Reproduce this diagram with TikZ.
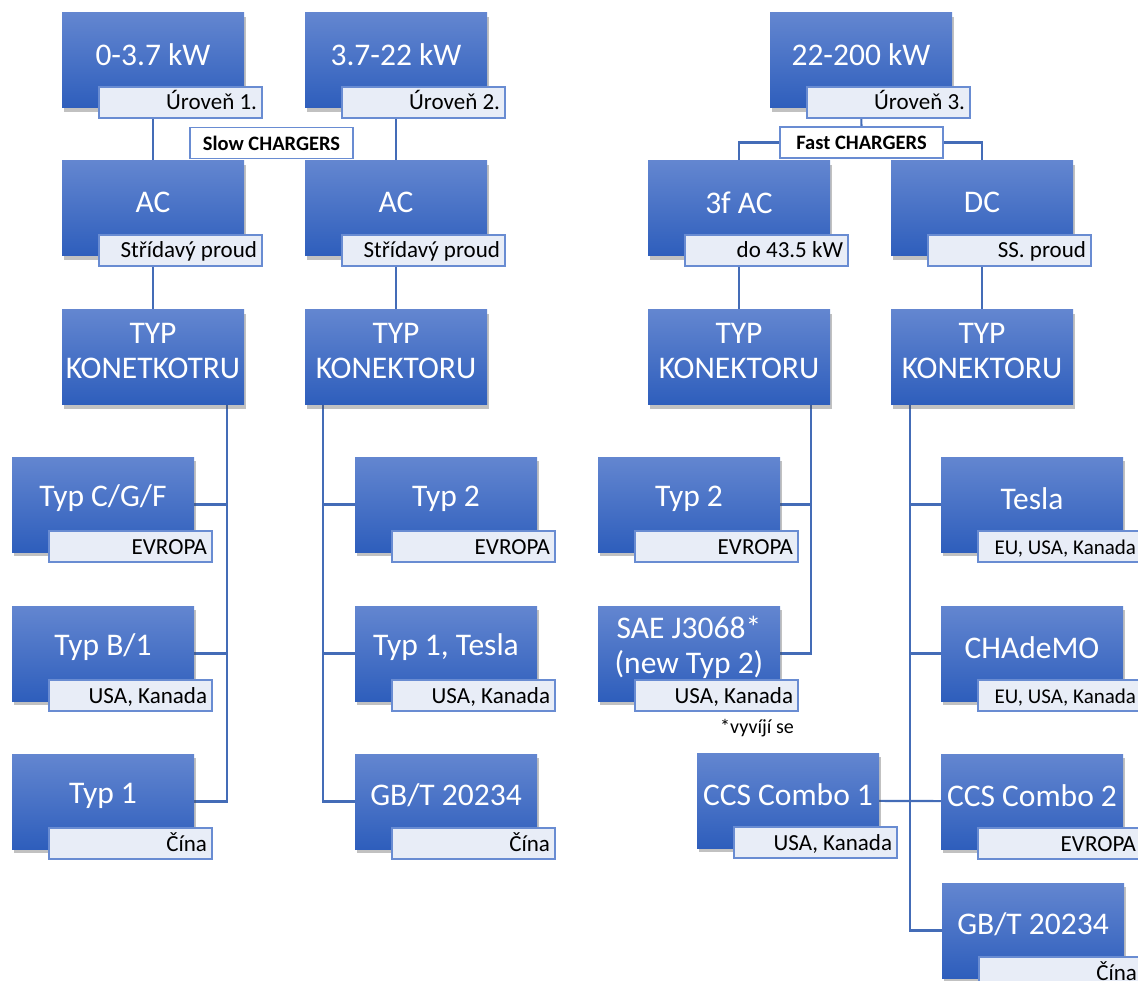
\documentclass[tikz,border=0pt]{standalone}
\usepackage{fontspec}
\setmainfont{Carlito}
\usetikzlibrary{shadows,calc,backgrounds}
\definecolor{boxtop}{RGB}{99,134,208}
\definecolor{boxbot}{RGB}{46,94,188}
\definecolor{lblfill}{RGB}{232,237,247}
\definecolor{lbldraw}{RGB}{105,140,210}
\definecolor{conn}{RGB}{68,108,183}
\tikzset{
  mainbox/.style={rectangle, minimum width=182pt, minimum height=95pt, inner sep=0pt,
    top color=boxtop, bottom color=boxbot, draw=none,
    drop shadow={shadow xshift=2pt, shadow yshift=-4pt, opacity=0.35, fill=black!70}},
  maintext/.style={text=white, font=\fontsize{31.5}{35}\selectfont, align=flush center, inner sep=0pt},
  lblbox/.style={rectangle, draw=lbldraw, line width=1.3pt, fill=lblfill,
    minimum width=163pt, minimum height=31pt, text width=153pt, inner xsep=5pt, inner ysep=0pt,
    align=flush right, text height=17pt, text depth=2pt, font=\fontsize{23}{27}\selectfont},
  smalllbl/.style={font=\fontsize{21}{25}\selectfont},
  grpbox/.style={rectangle, draw=lbldraw, line width=1.3pt, fill=white,
    minimum width=163pt, minimum height=31pt, inner sep=0pt, font=\bfseries\fontsize{20.5}{24}\selectfont},
  link/.style={draw=conn, line width=2.2pt}
}
% #1 name, #2 left x, #3 top y, #4 main text, #5 label text, #6 extra label style
\newcommand\cbox[6]{%
  \node[mainbox] (#1) at (#2+91,#3+47.5) {};
  \node[maintext] (#1t) at ([yshift=6pt]#1.center) {#4};
  \node[lblbox,#6] (#1l) at (#2+118.5,#3+89.5) {#5};
}
\newcommand\tbox[4]{%
  \node[mainbox] (#1) at (#2+91,#3+47.5) {};
  \node[maintext] (#1t) at ([yshift=6pt]#1.center) {#4};
}
\begin{document}
\frenchspacing
\begin{tikzpicture}[x=1pt,y=-1pt]
\useasboundingbox (0,0) rectangle (1138,981);
\clip (0,0) rectangle (1138,981);
% row 1
\cbox{A1}{62}{13}{0-3.7 kW}{Úroveň 1.}{}
\cbox{A2}{305}{13}{3.7-22 kW}{Úroveň 2.}{}
\cbox{F}{770}{13}{22-200 kW}{Úroveň 3.}{}
% row 2
\cbox{AC1}{62}{161}{AC}{Střídavý proud}{}
\cbox{AC2}{305}{161}{AC}{Střídavý proud}{}
\cbox{AC3}{648}{161}{3f AC}{do 43.5 kW}{}
\cbox{DC}{891}{161}{DC}{SS. proud}{}
% group labels
\node[grpbox] (slow) at (271.5,143) {Slow CHARGERS};
\node[grpbox] (fast) at (861.5,142.5) {Fast CHARGERS};
% row 3
\tbox{T1}{62}{310}{TYP\\KONETKOTRU}
\tbox{T2}{305}{310}{TYP\\KONEKTORU}
\tbox{T3}{648}{310}{TYP\\KONEKTORU}
\tbox{T4}{891}{310}{TYP\\KONEKTORU}
% column 1
\cbox{C1a}{12}{457}{Typ C/G/F}{EVROPA}{}
\cbox{C1b}{12}{606}{Typ B/1}{USA, Kanada}{}
\cbox{C1c}{12}{754}{Typ 1}{Čína}{}
% column 2
\cbox{C2a}{355}{457}{Typ 2}{EVROPA}{}
\cbox{C2b}{355}{606}{Typ 1, Tesla}{USA, Kanada}{}
\cbox{C2c}{355}{754}{GB/T 20234}{Čína}{}
% column 3
\cbox{C3a}{598}{457}{Typ 2}{EVROPA}{}
\cbox{C3b}{598}{606}{SAE J3068*\\(new Typ 2)}{USA, Kanada}{}
\node[font=\fontsize{20}{24}\selectfont, inner sep=0pt] (note) at (757,728) {*vyvíjí se};
\cbox{C3c}{697}{753}{CCS Combo 1}{USA, Kanada}{}
% column 4
\cbox{C4a}{941}{457}{Tesla}{EU, USA, Kanada}{smalllbl}
\cbox{C4b}{941}{606}{CHAdeMO}{EU, USA, Kanada}{smalllbl}
\cbox{C4c}{941}{754}{CCS Combo 2}{EVROPA}{}
\cbox{C4d}{942}{883}{GB/T 20234}{Čína}{}
% connector spine coordinates
\coordinate (s1) at (227,0);
\coordinate (s2) at (323,0);
\coordinate (s3) at (811,0);
\coordinate (s4) at (910,0);
\begin{pgfonlayer}{background}
\draw[link] (A1.center) -- (AC1.center);
\draw[link] (A2.center) -- (AC2.center);
\draw[link] (F.center) -- (fast.center);
\draw[link] (AC3.center) |- (fast.center) -| (DC.center);
\draw[link] (AC1.center) -- (T1.center);
\draw[link] (AC2.center) -- (T2.center);
\draw[link] (AC3.center) -- (T3.center);
\draw[link] (DC.center) -- (T4.center);
% column 1
\draw[link] (s1 |- T1.center) |- (C1c.center);
\draw[link] (C1a.center) -- (C1a.center -| s1);
\draw[link] (C1b.center) -- (C1b.center -| s1);
% column 2
\draw[link] (s2 |- T2.center) |- (C2c.center);
\draw[link] (C2a.center) -- (C2a.center -| s2);
\draw[link] (C2b.center) -- (C2b.center -| s2);
% column 3
\draw[link] (s3 |- T3.center) |- (C3b.center);
\draw[link] (C3a.center) -- (C3a.center -| s3);
% column 4
\draw[link] (s4 |- T4.center) |- (C4d.center);
\draw[link] (C4a.center) -- (C4a.center -| s4);
\draw[link] (C4b.center) -- (C4b.center -| s4);
\draw[link] (C3c.center) -- (C4c.center);
\end{pgfonlayer}
\end{tikzpicture}
\end{document}
